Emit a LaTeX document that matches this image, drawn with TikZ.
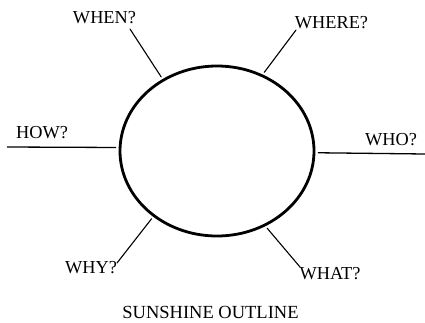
\documentclass[tikz,border=0pt]{standalone}
\usepackage{fontspec}
\setmainfont{Liberation Serif}
\usetikzlibrary{shapes.geometric}
\tikzset{
  sun/.style={ellipse, draw=black, line width=2.8pt,
    minimum width=194pt, minimum height=170pt, inner sep=0pt, outer sep=4pt},
  ray/.style={line width=1.1pt, line cap=round},
  flatray/.style={line width=1.3pt},
  question/.style={font=\fontsize{18.3}{21}\selectfont, inner sep=0pt},
  caption/.style={font=\fontsize{18.5}{21}\selectfont, inner sep=0pt}
}

\begin{document}
\begin{tikzpicture}[x=1pt, y=-1pt]
  \useasboundingbox (0,0) rectangle (425,322);

  % sun
  \node[sun] (sun) at (217,151) {};

  % questions
  \node[question] (when) at (104.5,18) {WHEN?};
  \node[question] (where) at (331.5,23) {WHERE?};
  \node[question] (how) at (42,132.5) {HOW?};
  \node[question] (who) at (391,140) {WHO?};
  \node[question] (why) at (91,268) {WHY?};
  \node[question] (what) at (330,273.5) {WHAT?};

  % free ends of the rays
  \coordinate (whenend) at (130,29);
  \coordinate (whereend) at (296,30);
  \coordinate (howend) at (7,147);
  \coordinate (whoend) at (425,154);
  \coordinate (whyend) at (117,263);
  \coordinate (whatend) at (300,267);

  % rays
  \draw[ray] (whenend) -- (sun.127);
  \draw[ray] (whereend) -- (sun.59);
  \draw[flatray] (howend) -- (sun.178);
  \draw[flatray] (sun.-1) -- (whoend);
  \draw[ray] (whyend) -- (sun.226);
  \draw[ray] (whatend) -- (sun.303);

  % caption
  \node[caption] (title) at (210.5,312.5) {SUNSHINE OUTLINE};
\end{tikzpicture}
\end{document}
